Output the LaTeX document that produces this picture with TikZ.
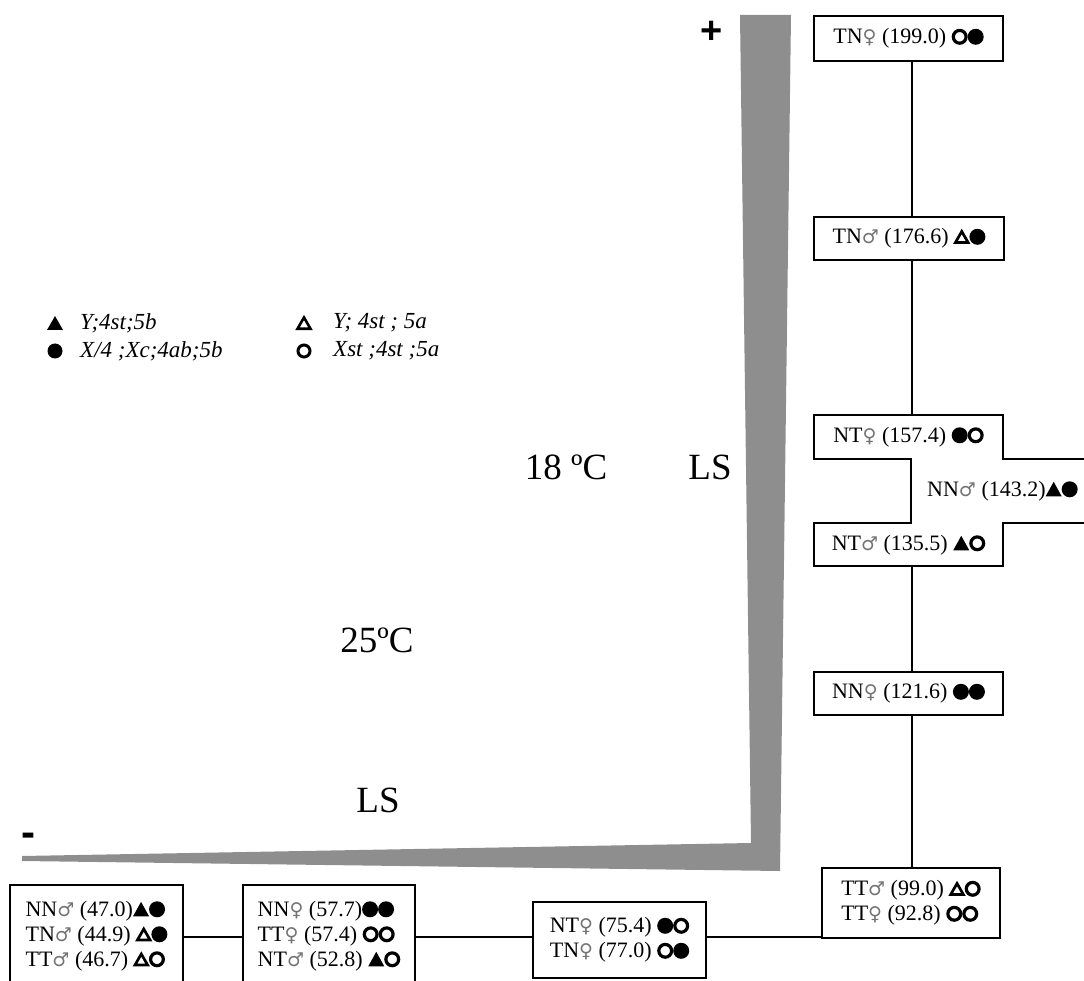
\documentclass[tikz,border=0pt]{standalone}
\usepackage{fontspec}
\setmainfont{Liberation Serif}
\setsansfont{Liberation Sans}
\newfontfamily\sexfont{DejaVu Sans}
\definecolor{bargray}{RGB}{142,142,142}
\newcommand\fem{{\sexfont\fontsize{19}{19}\selectfont\color{black!55}♀}}
\newcommand\mal{{\sexfont\fontsize{19}{19}\selectfont\color{black!55}♂}}
\newcommand\fTri{\tikz[baseline=0pt]{\fill (0pt,0pt) -- (16pt,0pt) -- (8pt,14.5pt) -- cycle;}}
\newcommand\oTri{\tikz[baseline=0pt]{\draw[line width=2.7pt,line join=miter] (1.7pt,1.35pt) -- (14.3pt,1.35pt) -- (8pt,12.3pt) -- cycle;}}
\newcommand\fCirc{\tikz[baseline=0pt]{\fill (8pt,7pt) circle (8pt);}}
\newcommand\oCirc{\tikz[baseline=0pt]{\draw[line width=3.2pt] (8pt,7pt) circle (6.4pt);}}
\begin{document}
\begin{tikzpicture}[x=1pt,y=-1pt,
  box/.style={draw,line width=2pt,inner sep=0pt},
  lbl/.style={font=\fontsize{22}{25}\selectfont,inner sep=0pt},
  leg/.style={font=\fontsize{23}{25}\selectfont\itshape,inner sep=0pt,anchor=west},
  big/.style={font=\fontsize{37}{40}\selectfont,inner sep=0pt},
  link/.style={line width=2pt}]
\useasboundingbox (0,0) rectangle (1084,981);
% gray wedge
\fill[bargray] (740,15) -- (791,15) -- (780,871) -- (22,861) -- (22,856) -- (751,843) -- cycle;
\node[font=\sffamily\bfseries\fontsize{38}{38}\selectfont,inner sep=0pt,anchor=base] (plus) at (712,44) {+};
\node[font=\sffamily\bfseries\fontsize{42}{42}\selectfont,inner sep=0pt,anchor=base] (minus) at (28,846) {-};
% big labels
\node[big] (t18) at (566,467) {18 ºC};
\node[big] (ls1) at (710,467) {LS};
\node[big] (t25) at (377,640) {25ºC};
\node[big] (ls2) at (378,800) {LS};
% legend
\fill (47,330) -- (63,330) -- (55,316) -- cycle;
\draw[line width=2.6pt,line join=miter] (297.5,328.8) -- (310.5,328.8) -- (304,317.5) -- cycle;
\fill (55,351) circle (7.5);
\draw[line width=3pt] (304,351) circle (6);
\node[leg] (lg1) at (80,323) {Y;4st;5b};
\node[leg] (lg2) at (333,323) {Y; 4st ; 5a};
\node[leg] (lg3) at (80,351) {X/4 ;Xc;4ab;5b};
\node[leg] (lg4) at (333,351) {Xst ;4st ;5a};
% right column
\node[box,lbl,minimum width=189pt,minimum height=45pt] (tnF) at (908.5,38.5) {TN\fem{} (199.0) \oCirc\fCirc};
\node[box,lbl,minimum width=190pt,minimum height=43pt] (tnM) at (909,238.5) {TN\mal{} (176.6) \oTri\fCirc};
\draw[line width=2pt] (1090,459) -- (1003,459) -- (1003,415) -- (814,415) -- (814,459) -- (911,459) -- (911,523) -- (814,523) -- (814,566) -- (1003,566) -- (1003,523) -- (1090,523);
\coordinate (crossTop) at (912,415);
\coordinate (crossBot) at (912,566);
\node[lbl] (ntF) at (908.5,437) {NT\fem{} (157.4) \fCirc\oCirc};
\node[lbl,anchor=west] (nnM) at (927,491) {NN\mal{} (143.2)\fTri\fCirc};
\node[lbl] (ntM) at (908.5,545) {NT\mal{} (135.5) \fTri\oCirc};
\node[box,lbl,minimum width=189pt,minimum height=43pt] (nnF) at (908.5,693.5) {NN\fem{} (121.6) \fCirc\fCirc};
\node[box,lbl,align=left,minimum width=178pt,minimum height=70pt] (tt) at (911,903) {TT\mal{} (99.0) \oTri\oCirc\\TT\fem{} (92.8) \oCirc\oCirc};
% bottom row
\node[box,lbl,align=left,minimum width=173pt,minimum height=76pt] (b3) at (619.5,940) {NT\fem{} (75.4) \fCirc\oCirc\\TN\fem{} (77.0) \oCirc\fCirc};
\node[box,lbl,align=left,minimum width=172pt,minimum height=102pt] (b2) at (329,936) {NN\fem{} (57.7)\fCirc\fCirc\\TT\fem{} (57.4) \oCirc\oCirc\\NT\mal{} (52.8) \fTri\oCirc};
\node[box,lbl,align=left,minimum width=173pt,minimum height=102pt] (b1) at (96.5,936) {NN\mal{} (47.0)\fTri\fCirc\\TN\mal{} (44.9) \oTri\fCirc\\TT\mal{} (46.7) \oTri\oCirc};
\coordinate (lineY) at (0,937);
% connectors
\draw[link] (tnF.south -| crossTop) -- (tnM.north -| crossTop);
\draw[link] (tnM.south -| crossTop) -- (crossTop);
\draw[link] (crossBot) -- (nnF.north -| crossBot);
\draw[link] (nnF.south -| crossBot) -- (tt.north -| crossBot);
\draw[link] (b1.east |- lineY) -- (b2.west |- lineY);
\draw[link] (b2.east |- lineY) -- (b3.west |- lineY);
\draw[link] (b3.east |- lineY) -- (tt.west |- lineY);
\end{tikzpicture}
\end{document}
